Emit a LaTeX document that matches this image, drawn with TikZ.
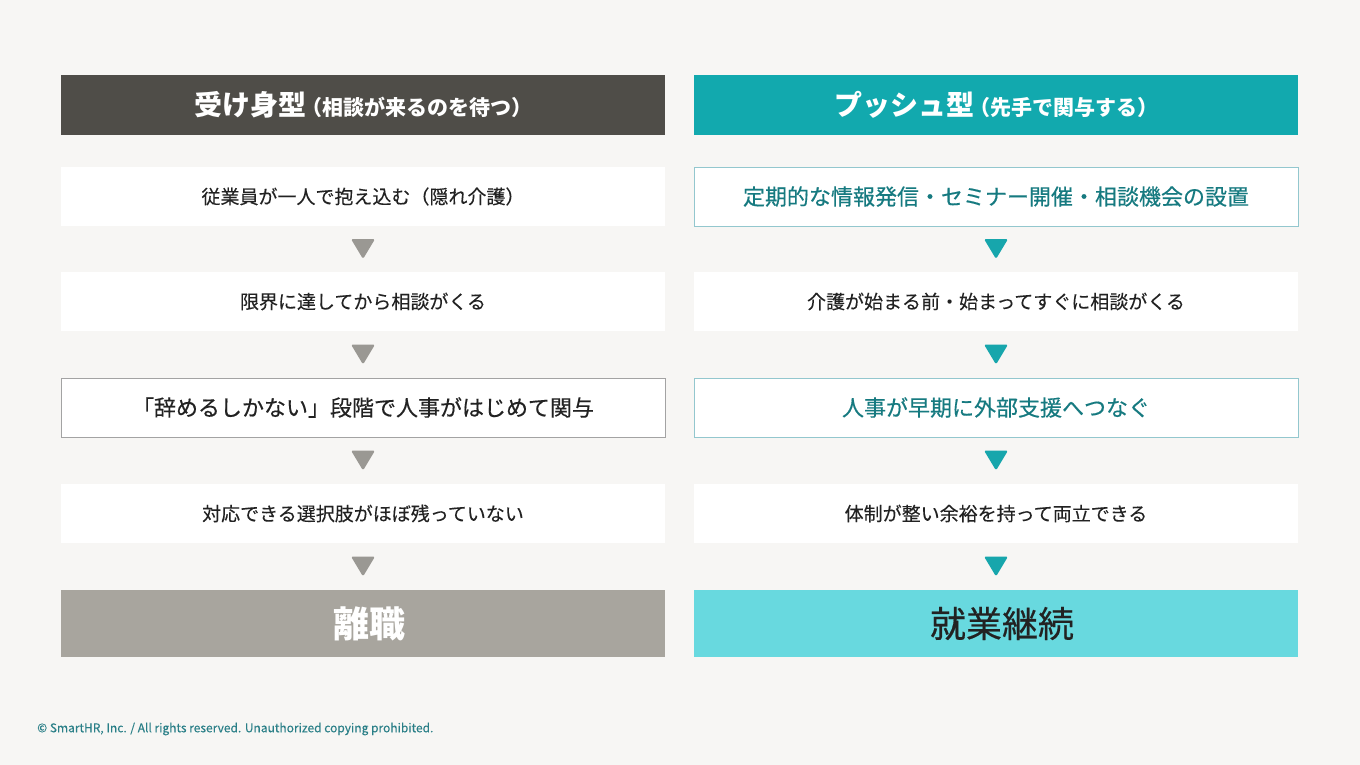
\documentclass[tikz,border=0pt]{standalone}
\usepackage{fontspec}
\setmainfont{Noto Sans CJK JP}
\newfontfamily\jpmid[FakeBold=0.4]{Noto Sans CJK JP}
\newfontfamily\jpbody[FakeBold=0.15]{Noto Sans CJK JP}
\usepackage{tikz}
\usetikzlibrary{calc}

\definecolor{paper}{HTML}{F7F6F4}
\definecolor{passivehead}{HTML}{4F4D48}
\definecolor{pushhead}{HTML}{12A9AE}
\definecolor{passiveend}{HTML}{A8A59E}
\definecolor{pushend}{HTML}{68D9DF}
\definecolor{passivetri}{HTML}{9A9893}
\definecolor{pushtri}{HTML}{17A6AC}
\definecolor{inkdark}{HTML}{222222}
\definecolor{inkteal}{HTML}{167A80}
\definecolor{greyline}{HTML}{A3A3A3}
\definecolor{tealline}{HTML}{93C7CE}
\definecolor{footink}{HTML}{2A7F87}

\tikzset{
  colbox/.style={minimum width=604pt, minimum height=59pt, inner sep=0pt, outer sep=0pt},
  headbox/.style={colbox, minimum height=60pt, text=white},
  stagebox/.style={colbox, fill=white, text=inkdark, font=\jpbody\fontsize{19}{19}\selectfont},
  keybox/.style={colbox, fill=white, line width=0.8pt, font=\jpmid\fontsize{22}{22}\selectfont},
  endbox/.style={colbox, minimum height=67pt, font=\fontsize{36}{36}\selectfont},
  downtri/.style={rounded corners=1.5pt}
}

\begin{document}
\begin{tikzpicture}[x=1pt, y=-1pt]
% background and frame
\fill[paper] (0,0) rectangle (1360,765);
\useasboundingbox (0,0) rectangle (1360,765);
%%% left column
% header
\node[headbox, fill=passivehead] (lhead) at (363,105)
  {\bfseries\fontsize{28}{28}\selectfont 受け身型\kern-5pt\fontsize{21}{21}\selectfont （相談が来るのを待つ）};
% stages
\node[stagebox] (l1) at (363,196.5) {従業員が一人で抱え込む（隠れ介護）};
\node[stagebox] (l2) at (363,301.5) {限界に達してから相談がくる};
\node[keybox, draw=greyline, text=inkdark] (l3) at (363,407.5) {「辞めるしかない」段階で人事がはじめて関与};
\node[stagebox] (l4) at (363,513.5) {対応できる選択肢がほぼ残っていない};
% outcome
\node[endbox, fill=passiveend, text=white] (lend) at (363,623.5) {\hspace*{12pt}\bfseries 離職};
%%% right column
% header
\node[headbox, fill=pushhead] (rhead) at (996,105)
  {\bfseries\fontsize{28}{28}\selectfont プッシュ型\kern-5pt\fontsize{21}{21}\selectfont （先手で関与する）};
% stages
\node[keybox, draw=tealline, text=inkteal] (r1) at (996,196.5) {定期的な情報発信・セミナー開催・相談機会の設置};
\node[stagebox] (r2) at (996,301.5) {介護が始まる前・始まってすぐに相談がくる};
\node[keybox, draw=tealline, text=inkteal] (r3) at (996,407.5) {人事が早期に外部支援へつなぐ};
\node[stagebox] (r4) at (996,513.5) {体制が整い余裕を持って両立できる};
% outcome
\node[endbox, fill=pushend, text=inkdark] (rend) at (996,623.5) {\hspace*{12pt}\jpmid 就業継続};
%%% arrows between stages
\foreach \a/\b in {l1/l2, l2/l3, l3/l4, l4/lend}
  \fill[passivetri, downtri] ($(\a.south)!0.5!(\b.north)$) ++(-12,-10) -- ++(24,0) -- ++(-12,20) -- cycle;
\foreach \a/\b in {r1/r2, r2/r3, r3/r4, r4/rend}
  \fill[pushtri, downtri] ($(\a.south)!0.5!(\b.north)$) ++(-12,-10) -- ++(24,0) -- ++(-12,20) -- cycle;
% footer
\node[anchor=west, inner sep=0pt, text=footink, font=\jpbody\fontsize{12}{12}\selectfont] (foot) at (37,729)
  {© SmartHR, Inc. / All rights reserved. Unauthorized copying prohibited.};
\end{tikzpicture}
\end{document}
